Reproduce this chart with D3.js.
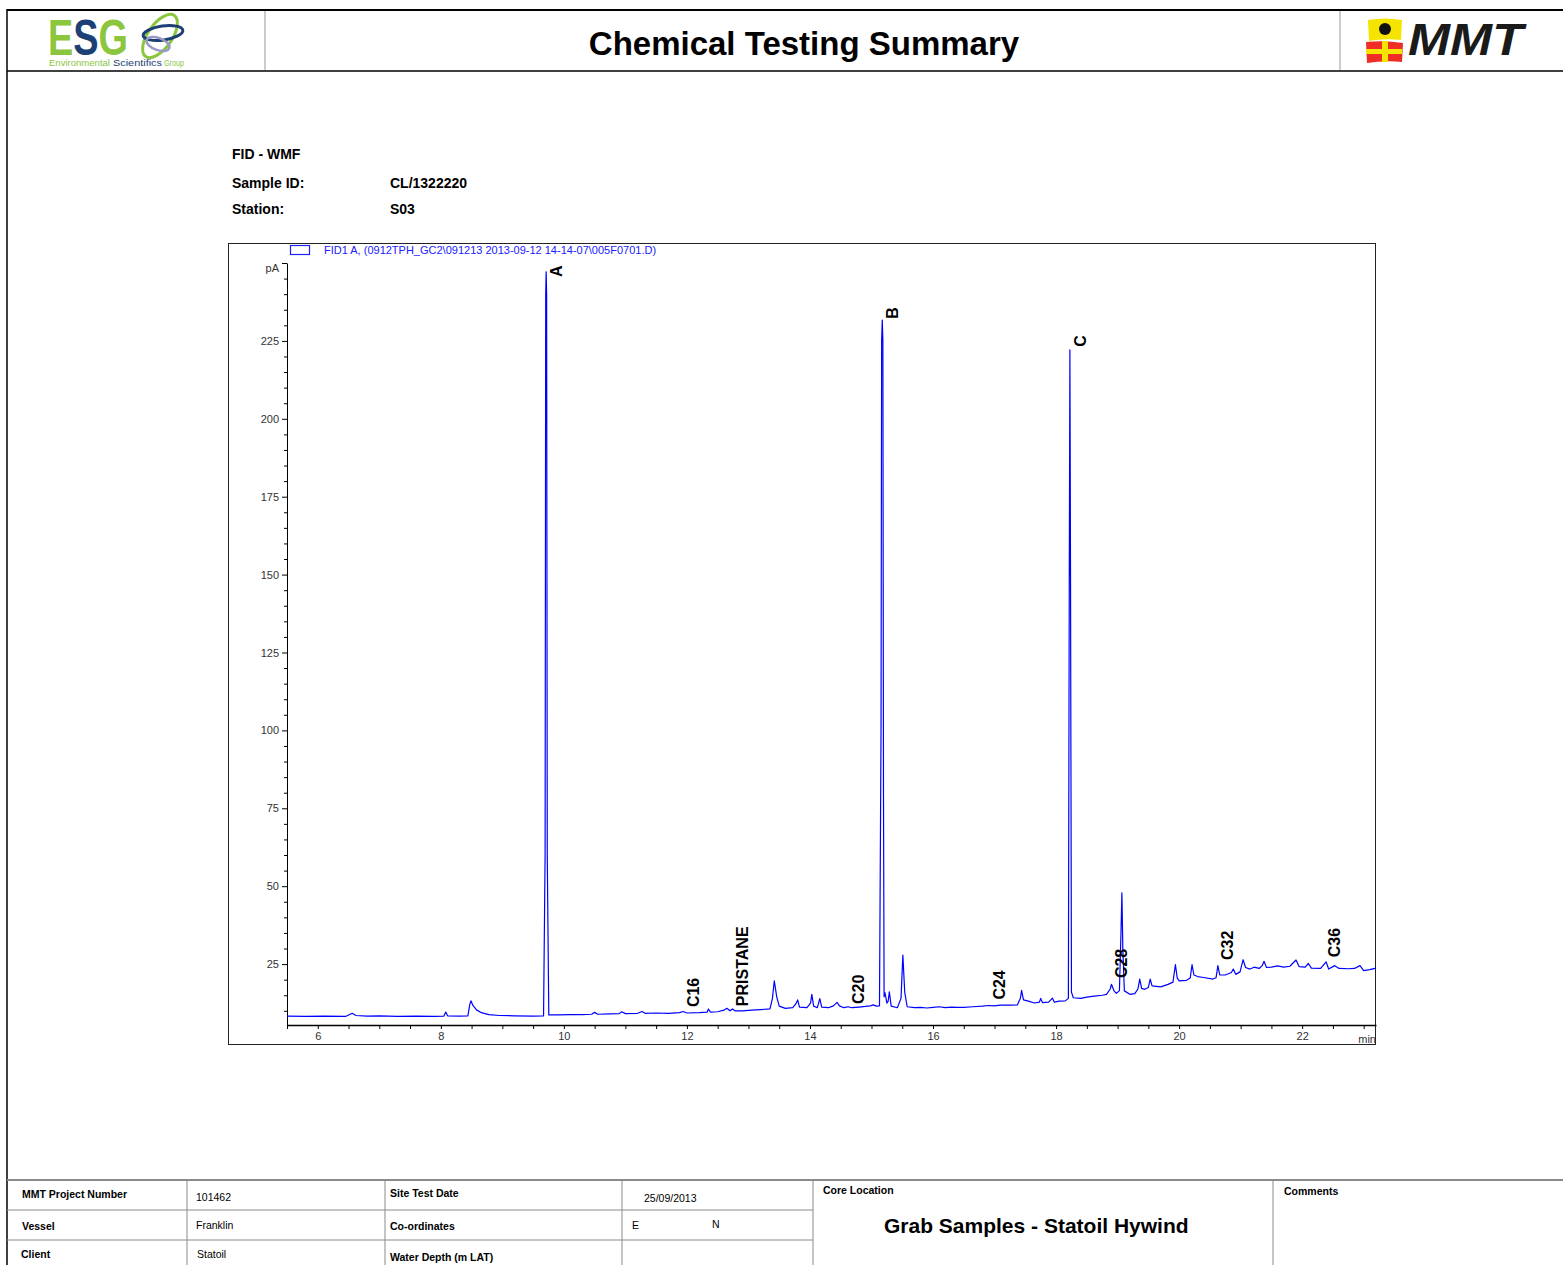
<!DOCTYPE html>
<html>
<head>
<meta charset="utf-8">
<script src="https://cdn.jsdelivr.net/npm/d3@7"></script>
<style>
  body { margin: 0; background: #fff; }
  svg { display: block; font-family: "Liberation Sans", Arial, sans-serif; }
  .narrow { font-family: "Liberation Sans Narrow", "Arial Narrow", "Liberation Sans", Arial, sans-serif; }
</style>
</head>
<body>
<svg id="page" width="1563" height="1265"></svg>
<script>
// chromatogram trace, [retention time (min), signal (pA)]
var trace = [
  [5.5, 8.3], [5.8, 8.2], [6.1, 8.3], [6.45, 8.2], [6.52, 8.8], [6.56, 9.2], [6.62, 8.5],
  [6.8, 8.3], [7.0, 8.4], [7.3, 8.2], [7.6, 8.3], [7.9, 8.2], [8.05, 8.3], [8.08, 9.6],
  [8.11, 8.4], [8.3, 8.3], [8.44, 8.4], [8.47, 12.0], [8.49, 13.2], [8.52, 11.8],
  [8.58, 10.3], [8.66, 9.4], [8.78, 8.8], [8.95, 8.5], [9.2, 8.4], [9.5, 8.3], [9.67, 8.4],
  [9.695, 60], [9.705, 240], [9.712, 247.2], [9.72, 240], [9.73, 60], [9.755, 8.7],
  [9.9, 8.7], [10.1, 8.8], [10.3, 8.8], [10.45, 8.9], [10.5, 9.5], [10.55, 8.9],
  [10.75, 9.0], [10.9, 9.1], [10.94, 9.7], [11.0, 9.1], [11.2, 9.2], [11.27, 9.8],
  [11.32, 9.2], [11.5, 9.3], [11.7, 9.2], [11.88, 9.4], [11.94, 9.8], [12.0, 9.3],
  [12.2, 9.4], [12.33, 9.6], [12.35, 10.6], [12.38, 9.6], [12.5, 9.7], [12.6, 10.2],
  [12.65, 10.8], [12.7, 10.0], [12.74, 10.6], [12.78, 10.0], [12.9, 10.0], [13.05, 10.2],
  [13.2, 10.4], [13.35, 10.6], [13.39, 14], [13.42, 19.6], [13.46, 14.5], [13.5, 11.5],
  [13.6, 10.8], [13.72, 11.0], [13.77, 12.2], [13.8, 13.5], [13.83, 11.2], [13.95, 11.0],
  [14.01, 12.5], [14.03, 15.3], [14.06, 11.5], [14.12, 11.0], [14.16, 13.9], [14.19, 11.2],
  [14.3, 11.0], [14.38, 11.6], [14.44, 12.7], [14.48, 11.6], [14.55, 11.0], [14.62, 11.3],
  [14.68, 11.0], [14.8, 11.2], [14.9, 11.4], [14.98, 11.6], [15.03, 11.9], [15.08, 11.5],
  [15.13, 11.6], [15.155, 100], [15.165, 225], [15.175, 231.7], [15.185, 225], [15.195, 80],
  [15.205, 14.5], [15.22, 15.8], [15.25, 12.5], [15.27, 13.0], [15.29, 16.1], [15.32, 11.5],
  [15.42, 11.0], [15.48, 14], [15.51, 27.9], [15.54, 16], [15.58, 11.3], [15.7, 11.0],
  [15.8, 11.1], [15.9, 10.9], [16.0, 11.1], [16.1, 11.3], [16.2, 11.0], [16.3, 11.2],
  [16.4, 11.1], [16.5, 11.1], [16.65, 11.3], [16.8, 11.5], [16.9, 11.7], [16.99, 11.6],
  [17.1, 11.8], [17.25, 11.8], [17.37, 11.9], [17.42, 14], [17.44, 16.6], [17.47, 13.5],
  [17.55, 13.1], [17.65, 12.5], [17.73, 12.8], [17.75, 14.0], [17.78, 12.6], [17.88, 12.8],
  [17.94, 14.1], [17.97, 12.8], [18.05, 13.1], [18.15, 13.2], [18.2, 14], [18.215, 150],
  [18.225, 222.1], [18.235, 150], [18.25, 16], [18.28, 14.2], [18.4, 14.0], [18.5, 14.4],
  [18.62, 14.7], [18.75, 15.0], [18.82, 15.3], [18.88, 17], [18.9, 18.5], [18.94, 16.5],
  [18.98, 15.6], [19.03, 16.5], [19.055, 35], [19.07, 47.9], [19.085, 30], [19.11, 16.4],
  [19.2, 15.3], [19.28, 15.5], [19.33, 17], [19.36, 20.2], [19.39, 17.2], [19.44, 16.9],
  [19.5, 17.5], [19.53, 20.2], [19.56, 18.0], [19.7, 17.7], [19.82, 18.5], [19.9, 19.2],
  [19.94, 24.8], [19.97, 20.5], [20.0, 19.6], [20.12, 19.8], [20.18, 20.5], [20.21, 24.8],
  [20.24, 21.5], [20.3, 21.0], [20.4, 20.7], [20.55, 20.2], [20.6, 20.6], [20.63, 24.5],
  [20.66, 21.5], [20.75, 21.5], [20.85, 22.3], [20.88, 23.4], [20.92, 21.7], [20.99, 22.5],
  [21.04, 26.4], [21.08, 23.9], [21.15, 23.4], [21.22, 24.0], [21.3, 23.6], [21.35, 24.5],
  [21.38, 25.9], [21.42, 23.9], [21.5, 24.0], [21.6, 24.4], [21.7, 24.0], [21.8, 24.3],
  [21.9, 26.3], [21.95, 24.2], [22.05, 24.0], [22.1, 25.2], [22.15, 23.7], [22.3, 23.6],
  [22.39, 25.7], [22.43, 23.4], [22.53, 24.5], [22.6, 23.6], [22.75, 23.5], [22.85, 23.6],
  [22.94, 24.5], [23.0, 22.9], [23.1, 23.2], [23.2, 23.7]
];

// peak annotations: name, retention time, signal where the label starts
var peakNames = ["A", "C16", "PRISTANE", "C20", "B", "C24", "C", "C28", "C32", "C36"];
var peakTimes = [9.71, 11.94, 12.74, 14.62, 15.175, 16.91, 18.23, 18.9, 20.61, 22.35];
var peakLabelAt = [245.5, 11.2, 11.5, 12.2, 232.1, 13.6, 223.1, 20.5, 26.3, 27.2];

var yTicks = [25, 50, 75, 100, 125, 150, 175, 200, 225];
var xTicks = [6, 8, 10, 12, 14, 16, 18, 20, 22];

var legendText = "FID1 A,  (0912TPH_GC2\\091213 2013-09-12 14-14-07\\005F0701.D)";

var infoRows = [["Sample ID:", "CL/1322220"], ["Station:", "S03"]];

var svg = d3.select("#page");

/* ---------- header ---------- */
svg.append("line").attr("x1", 7).attr("x2", 1563).attr("y1", 10).attr("y2", 10)
  .attr("stroke", "#000").attr("stroke-width", 2);
svg.append("line").attr("x1", 7).attr("x2", 1563).attr("y1", 71).attr("y2", 71)
  .attr("stroke", "#000").attr("stroke-width", 1.5);
svg.append("line").attr("x1", 7).attr("x2", 7).attr("y1", 9).attr("y2", 1265)
  .attr("stroke", "#000").attr("stroke-width", 1.5);
[265, 1340].forEach(function(xp) {
  svg.append("line").attr("x1", xp).attr("x2", xp).attr("y1", 11).attr("y2", 70)
    .attr("stroke", "#999").attr("stroke-width", 1);
});

svg.append("text")
  .attr("x", 804).attr("y", 55)
  .attr("text-anchor", "middle")
  .attr("font-size", 33).attr("font-weight", "bold")
  .text("Chemical Testing Summary");

// ESG logo
var esg = svg.append("g");
var esgWord = esg.append("text")
  .attr("x", 48).attr("y", 55)
  .attr("font-size", 50).attr("font-weight", "bold")
  .attr("textLength", 80).attr("lengthAdjust", "spacingAndGlyphs");
esgWord.append("tspan").attr("fill", "#8cc63f").text("E");
esgWord.append("tspan").attr("fill", "#1c3f74").text("S");
esgWord.append("tspan").attr("fill", "#8cc63f").text("G");
[["Environmental", 49, 61, "#8cc63f"], ["Scientifics", 113, 49, "#1c3f74"], ["Group", 164, 20, "#8cc63f"]]
  .forEach(function(w) {
    esg.append("text")
      .attr("x", w[1]).attr("y", 66)
      .attr("font-size", 9.5).attr("fill", w[3])
      .attr("textLength", w[2]).attr("lengthAdjust", "spacingAndGlyphs")
      .text(w[0]);
  });
esg.append("ellipse").attr("cx", 160).attr("cy", 36).attr("rx", 25).attr("ry", 12)
  .attr("transform", "rotate(-55,160,36)")
  .attr("fill", "none").attr("stroke", "#8cc63f").attr("stroke-width", 3);
esg.append("ellipse").attr("cx", 163).attr("cy", 33).attr("rx", 20).attr("ry", 7)
  .attr("transform", "rotate(-8,163,33)")
  .attr("fill", "none").attr("stroke", "#1c3f74").attr("stroke-width", 3);
esg.append("ellipse").attr("cx", 158).attr("cy", 44).attr("rx", 12).attr("ry", 6)
  .attr("transform", "rotate(20,158,44)")
  .attr("fill", "none").attr("stroke", "#9b98c4").attr("stroke-width", 2.5);

// MMT logo
var mmt = svg.append("g");
mmt.append("path").attr("d", "M1368,20 Q1385,17 1402,20 L1401,40 Q1385,38 1369,41 Z").attr("fill", "#f4e400");
mmt.append("circle").attr("cx", 1385).attr("cy", 29).attr("r", 6).attr("fill", "#111");
mmt.append("path").attr("d", "M1366,42 Q1385,40 1403,43 L1402,62 Q1385,60 1367,63 Z").attr("fill", "#ee2e24");
mmt.append("rect").attr("x", 1382).attr("y", 41).attr("width", 6).attr("height", 21).attr("fill", "#f4e400");
mmt.append("rect").attr("x", 1366).attr("y", 49).attr("width", 36).attr("height", 5).attr("fill", "#f4e400");
mmt.append("text")
  .attr("x", 1408).attr("y", 55)
  .attr("font-size", 44).attr("font-weight", "bold").attr("font-style", "italic")
  .attr("fill", "#1a1a1a")
  .attr("textLength", 115).attr("lengthAdjust", "spacingAndGlyphs")
  .text("MMT");

/* ---------- sample info ---------- */
svg.append("text").attr("x", 232).attr("y", 159)
  .attr("font-size", 14).attr("font-weight", "bold").text("FID - WMF");
infoRows.forEach(function(r, i) {
  var yy = 188 + i * 26;
  svg.append("text").attr("x", 232).attr("y", yy)
    .attr("font-size", 14).attr("font-weight", "bold").text(r[0]);
  svg.append("text").attr("x", 390).attr("y", yy)
    .attr("font-size", 14).attr("font-weight", "bold").text(r[1]);
});

/* ---------- chromatogram ---------- */
var x = d3.scaleLinear().domain([5.5, 23.2]).range([287, 1376]);
var y = d3.scaleLinear().domain([5.45, 250]).range([1025, 263]);

svg.append("rect")
  .attr("x", 228.5).attr("y", 243.5).attr("width", 1147).attr("height", 801)
  .attr("fill", "none").attr("stroke", "#222").attr("stroke-width", 1);

// legend
svg.append("rect")
  .attr("x", 290.5).attr("y", 245.5).attr("width", 19).attr("height", 9)
  .attr("fill", "none").attr("stroke", "#2020ff").attr("stroke-width", 1.2);
svg.append("text")
  .attr("x", 324).attr("y", 254)
  .attr("font-size", 11).attr("fill", "#2020ff")
  .text(legendText);

// y axis
var minorY = d3.range(10, 250, 5).filter(function(v) { return v % 25 !== 0; });
var yMinor = svg.append("g").attr("transform", "translate(287,0)")
  .call(d3.axisLeft(y).tickValues(minorY).tickSize(3).tickSizeOuter(0).tickFormat(""));
yMinor.select(".domain").remove();
var yAxis = svg.append("g").attr("transform", "translate(287,0)")
  .call(d3.axisLeft(y).tickValues(yTicks).tickSize(5).tickSizeOuter(0).tickPadding(3));
yAxis.selectAll("text").attr("font-size", 11).attr("fill", "#333")
  .attr("font-family", "'Liberation Sans', Arial, sans-serif");
svg.append("line").attr("x1", 282).attr("x2", 287).attr("y1", y(250) + 0.5).attr("y2", y(250) + 0.5)
  .attr("stroke", "#000");
svg.append("text").attr("x", 279).attr("y", 272)
  .attr("text-anchor", "end").attr("font-size", 11).attr("fill", "#333").text("pA");

// x axis
var xAxis = svg.append("g").attr("transform", "translate(0,1025)")
  .call(d3.axisBottom(x).tickValues(d3.range(5.5, 23.01, 0.5)).tickSize(4).tickSizeOuter(0)
    .tickFormat(function(d) { return xTicks.indexOf(d) > -1 ? d : ""; }));
xAxis.select(".domain").attr("stroke-width", 1.5);
xAxis.selectAll("text").attr("font-size", 11).attr("fill", "#333")
  .attr("font-family", "'Liberation Sans', Arial, sans-serif");
svg.append("text").attr("x", 1376).attr("y", 1043)
  .attr("text-anchor", "end").attr("font-size", 11).attr("fill", "#333").text("min");

// trace
var line = d3.line()
  .x(function(d) { return x(d[0]); })
  .y(function(d) { return y(d[1]); });
svg.append("path")
  .datum(trace)
  .attr("d", line)
  .attr("fill", "none")
  .attr("stroke", "#0000ff")
  .attr("stroke-width", 1.2)
  .attr("stroke-linejoin", "round");

// peak labels
svg.append("g").selectAll("text")
  .data(peakNames)
  .enter().append("text")
  .attr("transform", function(d, i) {
    return "translate(" + (x(peakTimes[i]) + 16) + "," + y(peakLabelAt[i]) + ") rotate(-90)";
  })
  .attr("font-size", 16).attr("font-weight", "bold")
  .text(function(d) { return d; });

/* ---------- footer table ---------- */
var tableColor = "#8a8a8a";
svg.append("line").attr("x1", 7).attr("x2", 1563).attr("y1", 1180).attr("y2", 1180)
  .attr("stroke", tableColor).attr("stroke-width", 2);
[1210, 1240].forEach(function(yy) {
  svg.append("line").attr("x1", 7).attr("x2", 813).attr("y1", yy).attr("y2", yy)
    .attr("stroke", tableColor).attr("stroke-width", 1);
});
[187, 385, 622, 813, 1273].forEach(function(xx) {
  svg.append("line").attr("x1", xx).attr("x2", xx).attr("y1", 1180).attr("y2", 1265)
    .attr("stroke", tableColor).attr("stroke-width", 1);
});

var cells = [
  ["MMT Project Number", 22, 1198, true], ["101462", 196, 1201, false],
  ["Site Test Date", 390, 1197, true], ["25/09/2013", 644, 1202, false],
  ["Vessel", 22, 1230, true], ["Franklin", 196, 1229, false],
  ["Co-ordinates", 390, 1230, true], ["E", 632, 1229, false], ["N", 712, 1228, false],
  ["Client", 21, 1258, true], ["Statoil", 197, 1258, false],
  ["Water Depth (m LAT)", 390, 1261, true],
  ["Core Location", 823, 1194, true], ["Comments", 1284, 1195, true]
];
svg.append("g").selectAll("text")
  .data(cells)
  .enter().append("text")
  .attr("class", "narrow")
  .attr("x", function(d) { return d[1]; })
  .attr("y", function(d) { return d[2]; })
  .attr("font-size", 10.5)
  .attr("font-weight", function(d) { return d[3] ? "bold" : "normal"; })
  .text(function(d) { return d[0]; });

svg.append("text")
  .attr("class", "narrow")
  .attr("x", 884).attr("y", 1233)
  .attr("font-size", 21).attr("font-weight", "bold")
  .text("Grab Samples - Statoil Hywind");
</script>
</body>
</html>
